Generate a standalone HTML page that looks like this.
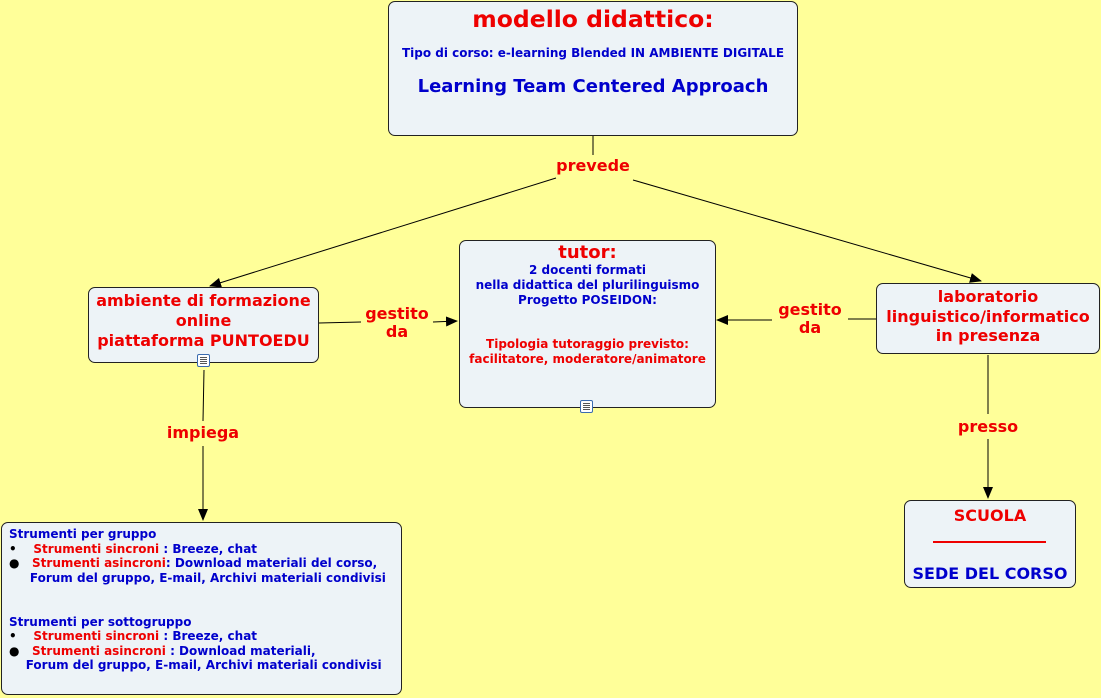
<!DOCTYPE html>
<html><head><meta charset="utf-8"><style>
body{margin:0;width:1101px;height:698px;background:#ffff99;position:relative;overflow:hidden;font-family:"DejaVu Sans","Liberation Sans",sans-serif;font-weight:bold}
.b{position:absolute;background:#edf3f7;border:1px solid #222;border-radius:7px;box-sizing:border-box}
.t{position:absolute;white-space:nowrap;text-align:center}
.r{color:#ee0000}.u{color:#0000cc}
.ic{position:absolute;width:13px;height:13px;border:1px solid #3a6bb0;background:#fff;box-sizing:border-box;border-radius:2px}
.ic:after{content:"";position:absolute;left:2px;top:2px;width:7px;height:7px;background:repeating-linear-gradient(#555 0 1px,#fff 1px 2px)}
</style></head><body>
<svg width="1101" height="698" style="position:absolute;left:0;top:0">
<defs><marker id="a" markerWidth="12" markerHeight="10" refX="11" refY="5" orient="auto" markerUnits="userSpaceOnUse"><path d="M0,0 L12,5 L0,10 z" fill="#000"/></marker></defs>
<g stroke="#000" stroke-width="1" fill="none">
<line x1="593" y1="136" x2="593" y2="155"/>
<line x1="556" y1="178" x2="210" y2="286" marker-end="url(#a)"/>
<line x1="633" y1="180" x2="981" y2="281" marker-end="url(#a)"/>
<line x1="319" y1="323" x2="361" y2="322"/>
<line x1="433" y1="322" x2="457" y2="321" marker-end="url(#a)"/>
<line x1="876" y1="319" x2="848" y2="319"/>
<line x1="772" y1="320" x2="717" y2="320" marker-end="url(#a)"/>
<line x1="204" y1="370" x2="203" y2="421"/>
<line x1="203" y1="446" x2="203" y2="520" marker-end="url(#a)"/>
<line x1="988" y1="355" x2="988" y2="414"/>
<line x1="988" y1="439" x2="988" y2="498" marker-end="url(#a)"/>
</g></svg>

<div class="b" style="left:388px;top:1px;width:410px;height:135px"></div>
<div class="t r" style="left:388px;width:410px;top:5px;font-size:23.5px">modello didattico:</div>
<div class="t u" style="left:388px;width:410px;top:46px;font-size:12px">Tipo di corso: e-learning Blended IN AMBIENTE DIGITALE</div>
<div class="t u" style="left:388px;width:410px;top:76px;font-size:18px">Learning Team Centered Approach</div>

<div class="t r" style="left:543px;width:100px;top:156px;font-size:16px">prevede</div>

<div class="b" style="left:88px;top:287px;width:231px;height:76px"></div>
<div class="t r" style="left:88px;width:231px;top:291px;font-size:16px;line-height:20px">ambiente di formazione<br>online<br>piattaforma PUNTOEDU</div>
<div class="ic" style="left:197px;top:354px"></div>

<div class="t r" style="left:357px;width:80px;top:305px;font-size:16px;line-height:18px">gestito<br>da</div>

<div class="b" style="left:459px;top:240px;width:257px;height:168px"></div>
<div class="t r" style="left:459px;width:257px;top:242px;font-size:18px">tutor:</div>
<div class="t u" style="left:459px;width:257px;top:263px;font-size:12px;line-height:15px">2 docenti formati<br>nella didattica del plurilinguismo<br>Progetto POSEIDON:</div>
<div class="t r" style="left:459px;width:257px;top:337px;font-size:12px;line-height:15px">Tipologia tutoraggio previsto:<br>facilitatore, moderatore/animatore</div>
<div class="ic" style="left:580px;top:400px"></div>

<div class="t r" style="left:770px;width:80px;top:301px;font-size:16px;line-height:18px">gestito<br>da</div>

<div class="b" style="left:876px;top:283px;width:224px;height:71px"></div>
<div class="t r" style="left:876px;width:224px;top:287px;font-size:16px;line-height:19.5px">laboratorio<br>linguistico/informatico<br>in presenza</div>

<div class="t r" style="left:150px;width:106px;top:423px;font-size:16px">impiega</div>
<div class="t r" style="left:938px;width:100px;top:417px;font-size:16px">presso</div>

<div class="b" style="left:904px;top:500px;width:172px;height:88px"></div>
<div class="t r" style="left:904px;width:172px;top:506px;font-size:16px">SCUOLA</div>
<div style="position:absolute;left:933px;top:541px;width:113px;height:1.5px;background:#ee0000"></div>
<div class="t u" style="left:904px;width:172px;top:564px;font-size:16px">SEDE DEL CORSO</div>

<div class="b" style="left:1px;top:522px;width:401px;height:173px"></div>
<div class="t" style="left:9px;top:527px;font-size:12px;line-height:14.6px;text-align:left">
<span class="u">Strumenti per gruppo</span><br>
<span style="color:#000">•&nbsp;&nbsp;&nbsp;&nbsp;</span><span class="r">Strumenti sincroni</span><span class="u"> : Breeze, chat</span><br>
<span style="color:#000">●&nbsp;&nbsp;&nbsp;</span><span class="r">Strumenti asincroni</span><span class="u">: Download materiali del corso,</span><br>
<span class="u">&nbsp;&nbsp;&nbsp;&nbsp;&nbsp;Forum del gruppo, E-mail, Archivi materiali condivisi</span><br><br><br>
<span class="u">Strumenti per sottogruppo</span><br>
<span style="color:#000">•&nbsp;&nbsp;&nbsp;&nbsp;</span><span class="r">Strumenti sincroni</span><span class="u"> : Breeze, chat</span><br>
<span style="color:#000">●&nbsp;&nbsp;&nbsp;</span><span class="r">Strumenti asincroni</span><span class="u"> : Download materiali,</span><br>
<span class="u">&nbsp;&nbsp;&nbsp;&nbsp;Forum del gruppo, E-mail, Archivi materiali condivisi</span>
</div>
</body></html>
